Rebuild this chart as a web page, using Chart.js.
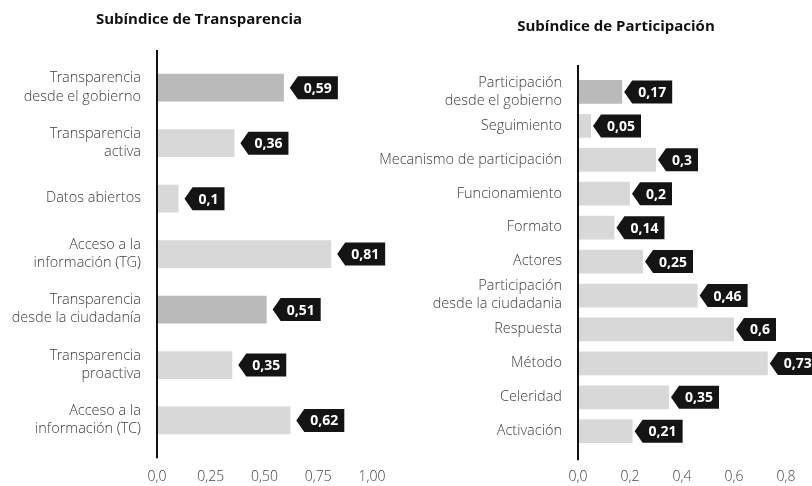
<!DOCTYPE html>
<html>
<head>
  <script src="https://cdn.jsdelivr.net/npm/chart.js"></script>
  <style>
    body { margin: 0; background: #fff; }
    .box { position: absolute; top: 0; height: 486px; }
    #left { left: 0; width: 406px; }
    #right { left: 370px; width: 442px; }
  </style>
</head>
<body>
  <div class="box" id="left"><canvas id="chartLeft"></canvas></div>
  <div class="box" id="right"><canvas id="chartRight"></canvas></div>

  <script>
    // Subíndice de Transparencia
    var transLabels = [
      ['Transparencia', 'desde el gobierno'],
      ['Transparencia', 'activa'],
      'Datos abiertos',
      ['Acceso a la', 'información (TG)'],
      ['Transparencia', 'desde la ciudadanía'],
      ['Transparencia', 'proactiva'],
      ['Acceso a la', 'información (TC)']
    ];
    var transValues = [0.59, 0.36, 0.1, 0.81, 0.51, 0.35, 0.62];
    var transTicks = ['0,0', '0,25', '0,50', '0,75', '1,00'];

    // Subíndice de Participación
    var partLabels = [
      ['Participación', 'desde el gobierno'],
      'Seguimiento',
      'Mecanismo de participación',
      'Funcionamiento',
      'Formato',
      'Actores',
      ['Participación', 'desde la ciudadania'],
      'Respuesta',
      'Método',
      'Celeridad',
      'Activación'
    ];
    var partValues = [0.17, 0.05, 0.3, 0.2, 0.14, 0.25, 0.46, 0.6, 0.73, 0.35, 0.21];
    var partTicks = ['0,0', '0,2', '0,4', '0,6', '0,8'];

    var FONT = '"Open Sans Light", "Open Sans"';
    var BOLD = '"Open Sans"';

    // title, black arrow tags with the value, extended axis line
    var tagPlugin = {
      id: 'tags',
      afterDatasetsDraw: function(chart, args, opts) {
        var ctx = chart.ctx;
        var meta = chart.getDatasetMeta(0);
        ctx.save();
        ctx.font = 'bold 14px ' + BOLD;
        meta.data.forEach(function(bar, i) {
          var v = chart.data.datasets[0].data[i];
          var txt = String(v).replace('.', ',');
          var tw = ctx.measureText(txt).width;
          var x0 = bar.x + opts.gap, y = bar.y, h = opts.h, aw = 8;
          var w = tw + 12;
          ctx.fillStyle = '#141414';
          ctx.beginPath();
          ctx.moveTo(x0, y);
          ctx.lineTo(x0 + aw, y - h / 2);
          ctx.lineTo(x0 + aw + w, y - h / 2);
          ctx.lineTo(x0 + aw + w, y + h / 2);
          ctx.lineTo(x0 + aw, y + h / 2);
          ctx.closePath();
          ctx.fill();
          ctx.fillStyle = '#fff';
          ctx.textAlign = 'center';
          ctx.textBaseline = 'middle';
          ctx.fillText(txt, x0 + aw + w / 2, y + 1);
        });
        var ca = chart.chartArea;
        var x = chart.scales.x.getPixelForValue(0);
        ctx.strokeStyle = '#111';
        ctx.lineWidth = 2;
        ctx.beginPath();
        ctx.moveTo(x, ca.top - opts.extTop);
        ctx.lineTo(x, ca.bottom + opts.extBottom);
        ctx.stroke();

        ctx.fillStyle = '#111';
        ctx.font = 'bold 15px ' + BOLD;
        ctx.textAlign = 'center';
        ctx.textBaseline = 'middle';
        ctx.fillText(opts.title, opts.titleX, opts.titleY);
        ctx.restore();
      }
    };

    function makeChart(id, title, labels, values, ticks, max, step, cfg) {
      var ctx = document.getElementById(id).getContext('2d');
      return new Chart(ctx, {
        type: 'bar',
        data: {
          labels: labels,
          datasets: [{
            data: values,
            backgroundColor: function(c) {
              return cfg.dark.indexOf(c.dataIndex) >= 0 ? '#bababa' : '#d8d8d8';
            },
            categoryPercentage: 1,
            barPercentage: cfg.barPct
          }]
        },
        plugins: [tagPlugin],
        options: {
          indexAxis: 'y',
          responsive: true,
          maintainAspectRatio: false,
          animation: false,
          layout: { padding: cfg.padding },
          plugins: {
            legend: { display: false },
            tooltip: { enabled: false },
            title: { display: false },
            tags: {
              gap: cfg.gap, h: cfg.tagH, extTop: cfg.extTop, extBottom: cfg.extBottom,
              title: title, titleX: cfg.titleX, titleY: cfg.titleY
            }
          },
          scales: {
            x: {
              min: 0,
              max: max,
              grid: { display: false, drawTicks: false },
              border: { display: false },
              afterFit: function(s) { s.paddingLeft = 0; s.paddingRight = 0; },
              ticks: {
                stepSize: step,
                padding: 21,
                color: '#444',
                font: { family: FONT, size: 14, weight: 300 },
                callback: function(v, i) { return ticks[i]; }
              }
            },
            y: {
              grid: { display: false, drawTicks: false },
              border: { display: false },
              afterFit: function(s) {
                s.width = cfg.yWidth;
                s.paddingTop = 0;
                s.paddingBottom = 0;
              },
              ticks: {
                autoSkip: false,
                padding: 16,
                color: '#3c3c3c',
                font: { family: FONT, size: 14.5, weight: 300, lineHeight: 1.25 }
              }
            }
          }
        }
      });
    }

    makeChart('chartLeft', 'Subíndice de Transparencia', transLabels, transValues, transTicks, 1, 0.25, {
      dark: [0, 4],
      barPct: 0.5,
      padding: { left: 0, right: 34, top: 60, bottom: -21 },
      yWidth: 157,
      titleX: 199,
      titleY: 20,
      gap: 6,
      tagH: 23,
      extTop: 10,
      extBottom: 10
    });

    makeChart('chartRight', 'Subíndice de Participación', partLabels, partValues, partTicks, 0.8, 0.2, {
      dark: [0],
      barPct: 0.7,
      padding: { left: 0, right: 26, top: 75, bottom: -21 },
      yWidth: 208,
      titleX: 246,
      titleY: 27,
      gap: 2,
      tagH: 23,
      extTop: 10,
      extBottom: 12
    });
  </script>
</body>
</html>
